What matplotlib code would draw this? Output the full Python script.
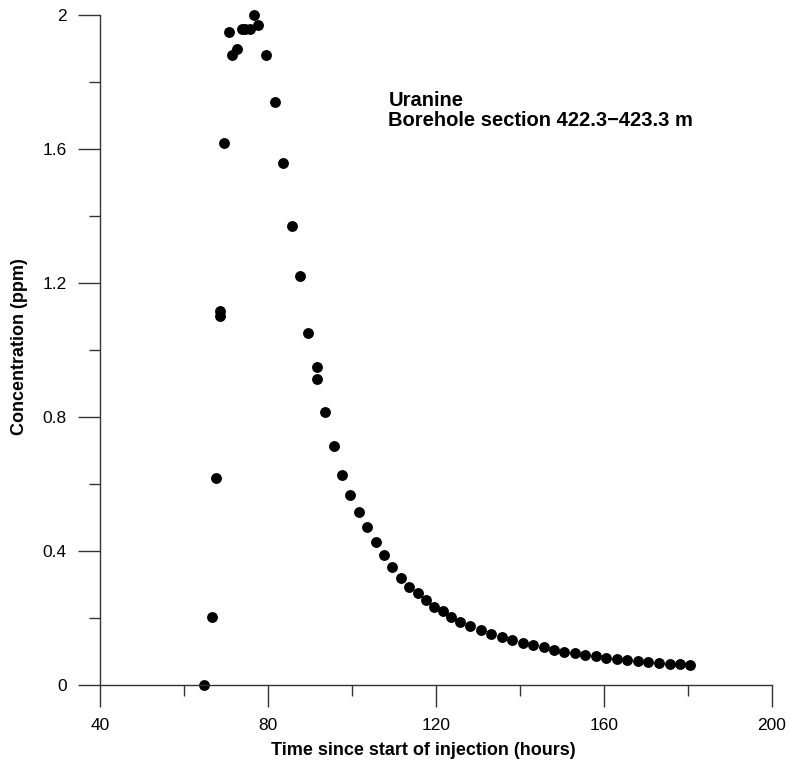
import matplotlib
matplotlib.use('Agg')
import matplotlib.pyplot as plt
from matplotlib.ticker import MultipleLocator

plt.rcParams['font.family'] = ['Liberation Sans', 'DejaVu Sans']

# Uranine breakthrough, borehole section 422.3-423.3 m
time_h = [64.8, 66.6, 67.6, 68.6, 68.6, 69.6, 70.6, 71.5, 72.6, 73.7,
          74.6, 75.7, 76.7, 77.7, 79.6, 81.7, 83.6, 85.6, 87.6, 89.6,
          91.6, 91.6, 93.6, 95.6, 97.6, 99.6, 101.7, 103.6, 105.6, 107.6,
          109.6, 111.6, 113.6, 115.6, 117.6, 119.6, 121.6, 123.6, 125.6, 128.1,
          130.6, 133.1, 135.6, 138.1, 140.6, 143.1, 145.6, 148.0, 150.5, 153.1,
          155.5, 158.1, 160.5, 163.0, 165.5, 168.0, 170.5, 173.1, 175.6, 178.1,
          180.5]
conc_ppm = [0.0, 0.202, 0.619, 1.116, 1.101, 1.619, 1.948, 1.880, 1.899, 1.958,
            1.958, 1.958, 2.000, 1.969, 1.880, 1.739, 1.559, 1.369, 1.220, 1.050,
            0.950, 0.912, 0.815, 0.712, 0.626, 0.566, 0.516, 0.471, 0.427, 0.387,
            0.352, 0.318, 0.293, 0.274, 0.253, 0.232, 0.220, 0.202, 0.189, 0.176,
            0.163, 0.153, 0.143, 0.134, 0.125, 0.119, 0.112, 0.105, 0.099, 0.095,
            0.090, 0.086, 0.081, 0.078, 0.075, 0.071, 0.068, 0.067, 0.064, 0.062,
            0.059]

fig = plt.figure(figsize=(7.89, 7.65), dpi=100)
ax = fig.add_axes([100 / 789, 80 / 765, 672 / 789, 670 / 765])

ax.plot(time_h, conc_ppm, 'o', color='black', markersize=6.8, clip_on=False)

ax.set_xlim(40, 200)
ax.set_ylim(0, 2)
ax.xaxis.set_major_locator(MultipleLocator(40))
ax.xaxis.set_minor_locator(MultipleLocator(20))
ax.yaxis.set_major_locator(MultipleLocator(0.4))
ax.yaxis.set_minor_locator(MultipleLocator(0.2))
ax.set_yticks([0, 0.4, 0.8, 1.2, 1.6, 2])
ax.set_yticklabels(['0', '0.4', '0.8', '1.2', '1.6', '2'])

for side in ['top', 'right']:
    ax.spines[side].set_visible(False)
for side in ['left', 'bottom']:
    ax.spines[side].set_color('#333333')
    ax.spines[side].set_linewidth(1.0)

ax.tick_params(which='major', direction='out', length=16, width=1.0,
               color='#333333', labelsize=12.5, pad=8)
ax.tick_params(which='minor', direction='out', length=8, width=1.0,
               color='#333333')

ax.set_xlabel('Time since start of injection (hours)', fontsize=13,
              fontweight='bold', labelpad=-2)
ax.xaxis.set_label_coords(0.481, -0.085)
ax.set_ylabel('Concentration (ppm)', fontsize=13, fontweight='bold')
ax.yaxis.set_label_coords(-0.107, 0.505)

ax.text(0.429, 0.886, 'Uranine\nBorehole section 422.3\u2212423.3 m',
        transform=ax.transAxes, fontsize=14.5, fontweight='bold',
        va='top', ha='left', linespacing=1.05)

fig.savefig('out.png', dpi=100)
